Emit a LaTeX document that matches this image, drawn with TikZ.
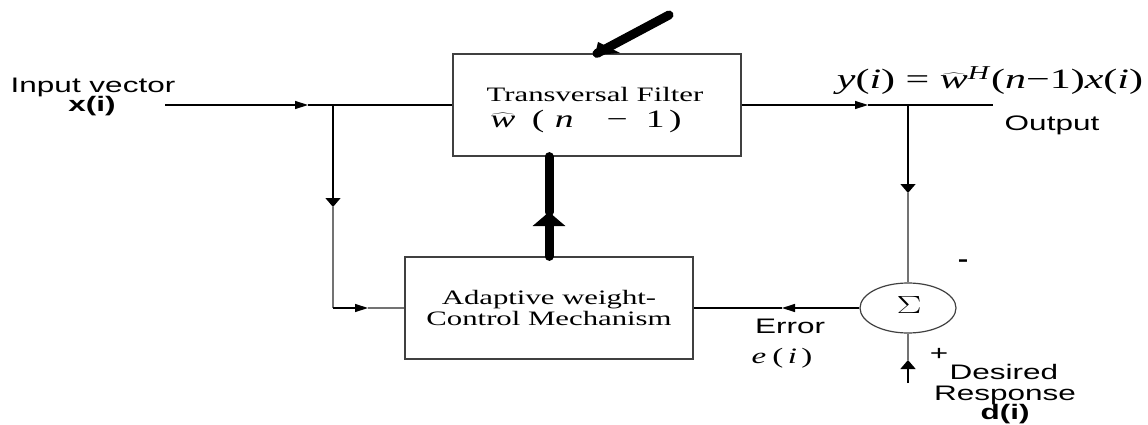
\documentclass[tikz,border=0pt]{standalone}
\usepackage{fontspec}
\setmainfont{Liberation Serif}
\setsansfont{Liberation Sans}
\usetikzlibrary{arrows.meta,shapes.geometric}
\newcommand{\sx}[1]{\scalebox{1.5}[1]{#1}}
\tikzset{
  wire/.style={line width=1.4pt, draw=black},
  gwire/.style={line width=1.4pt, draw=black!55},
  varr/.style={-{Triangle[length=9pt,width=15pt]}},
  harr/.style={-{Triangle[length=13pt,width=8pt]}},
  blk/.style={draw=black!75, line width=1.2pt, minimum width=288pt, minimum height=102pt, inner sep=0pt},
  lab/.style={font=\sffamily\fontsize{21}{24}\selectfont, inner sep=0pt, anchor=base},
  ser/.style={font=\fontsize{20.5}{24}\selectfont, inner sep=0pt, anchor=base},
  thickln/.style={line width=9pt, line cap=round},
}
\begin{document}
\begin{tikzpicture}[x=1pt,y=-1pt]
\useasboundingbox (0,0) rectangle (1148,425);
% blocks
\node[blk] (tf) at (597,105) {};
\node[blk] (af) at (549,308) {};
\node[draw=black!75, line width=1.2pt, ellipse, minimum width=96pt, minimum height=50pt, inner sep=0pt] (sig) at (908,308) {};
% coordinates
\coordinate (in0) at (165,105);
\coordinate (a1) at (308,105);
\coordinate (j1) at (333,105);
\coordinate (a2) at (333,207);
\coordinate (c1) at (333,308);
\coordinate (a3) at (368,308);
\coordinate (a4) at (868,105);
\coordinate (j2) at (908,105);
\coordinate (out0) at (993,105);
\coordinate (a5) at (908,193);
\coordinate (a6) at (782,308);
\coordinate (d0) at (908,383);
\coordinate (a7) at (908,360);
\coordinate (ta) at (549,212);
\coordinate (dg) at (669,15);
% connectors
\draw[wire,harr] (in0) -- (a1);
\draw[wire] (a1) -- (j1) -- (tf.west);
\draw[wire,varr] (j1) -- (a2);
\draw[gwire] (a2) -- (c1);
\draw[wire,harr] (c1) -- (a3);
\draw[gwire] (a3) -- (af.west);
\draw[wire,harr] (tf.east) -- (a4);
\draw[wire] (a4) -- (j2) -- (out0);
\draw[wire,varr] (j2) -- (a5);
\draw[gwire] (a5) -- (sig.north);
\draw[wire,harr] (sig.west) -- (a6);
\draw[wire] (a6) -- (af.east);
\draw[wire,varr] (d0) -- (a7);
\draw[gwire] (a7) -- (sig.south);
% thick weight-update arrow
\draw[thickln, -{Triangle[length=14pt,width=32pt]}] (af.north) -- (ta);
\draw[thickln] (ta |- tf.south) -- (ta);
% adjustable-filter diagonal
\draw[thickln] (tf.north) -- (dg);
\fill (595,55) -- (598,42) -- (620,53) -- cycle;
% texts
\node[lab] (t1) at (93,93) {\sx{Input vector}};
\node[lab] (t2) at (92,112) {\sx{\bfseries x(i)}};
\node[lab] (t3) at (1052,131) {\sx{Output}};
\node[inner sep=0pt, anchor=base] (t4) at (990,89) {\sx{\fontsize{28}{30}\selectfont\textit{y}(\textit{i}) = $\widehat{\mbox{\itshape w}}$\textsuperscript{\textit{H}}(\textit{n}−1)\textit{x}(\textit{i})}};
\node[ser] (t5) at (595,102) {\sx{Transversal Filter}};
\node[ser] (t6) at (586,128) {\sx{\fontsize{25}{28}\selectfont$\widehat{\mbox{\itshape w}}$\hspace{11pt}(\hspace{7pt}\textit{n}\hspace{22pt}−\hspace{12pt}1\hspace{3pt})}};
\node[ser] (t7) at (549,304) {\sx{Adaptive weight-}};
\node[ser] (t8) at (549,325) {\sx{Control Mechanism}};
\node[lab] (t9) at (790,333) {\sx{Error}};
\node[ser] (t10) at (782,363) {\sx{\fontsize{22}{26}\selectfont\textit{e}\hspace{4pt}(\hspace{3pt}\textit{i}\hspace{3pt})}};
\node[inner sep=0pt] (t11) at (909,305) {\sx{\fontsize{28}{30}\selectfont$\Sigma$}};
\node[lab, anchor=center] (t12) at (963,263) {\sx{\bfseries -}};
\node[lab, anchor=center] (t13) at (939,354) {\sx{+}};
\node[lab] (t14) at (1004,379) {\sx{Desired}};
\node[lab] (t15) at (1005,400) {\sx{Response}};
\node[lab] (t16) at (1005,419) {\sx{\bfseries d(i)}};
\end{tikzpicture}
\end{document}
